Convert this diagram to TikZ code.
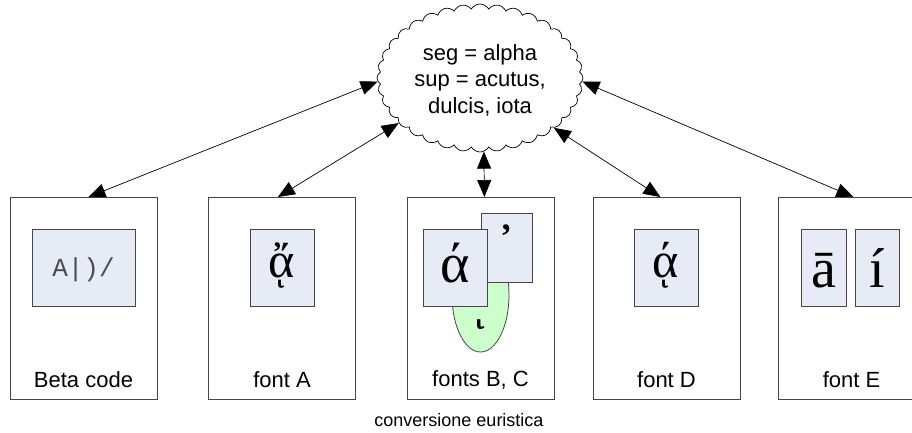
\documentclass[tikz,border=0pt]{standalone}
\usepackage{fontspec}
\setmainfont{Liberation Sans}
\newfontfamily\grk{Liberation Serif}
\newfontfamily\monof{Liberation Mono}
\usetikzlibrary{shapes.symbols,shapes.geometric,arrows.meta}
\definecolor{innerblue}{RGB}{230,235,246}
\definecolor{lightgreen}{RGB}{204,255,204}
\definecolor{boxline}{RGB}{70,70,70}
\begin{document}
\begin{tikzpicture}[x=1pt,y=-1pt,
  outerbox/.style={draw=boxline, line width=0.8pt, minimum width=147pt, minimum height=202pt, anchor=north west, inner sep=0pt},
  glyphbox/.style={draw=boxline, fill=innerblue, line width=0.8pt, inner sep=0pt, minimum height=77pt},
  lbl/.style={font=\fontsize{22}{26}\selectfont, inner sep=0pt},
  glyph/.style={inner sep=0pt, anchor=base},
  link/.style={{Triangle[length=17pt,width=14pt]}-{Triangle[length=17pt,width=14pt]}, line width=0.7pt},
]
\useasboundingbox (0,0) rectangle (912,432);

% cloud
\node[cloud, draw, line width=0.7pt, cloud puffs=36, cloud puff arc=120, aspect=1.4,
      minimum width=206pt, minimum height=148pt, inner sep=0pt] (cl) at (480,78) {};
\node[align=center, inner sep=0pt, font=\fontsize{22}{26.5}\selectfont] (cltext) at (480,80)
  {seg = alpha\\sup = acutus,\\dulcis, iota};

% outer boxes
\node[outerbox] (b1) at (10,197) {};
\node[outerbox] (b2) at (208,197) {};
\node[outerbox] (b3) at (407,197) {};
\node[outerbox] (b4) at (593,197) {};
\node[outerbox] (b5) at (778,197) {};

% labels
\node[lbl] (l1) at (83.5,380) {Beta code};
\node[lbl] (l2) at (282,380) {font A};
\node[lbl] (l3) at (480.5,380) {fonts B, C};
\node[lbl] (l4) at (666.5,380) {font D};
\node[lbl] (l5) at (851.5,380) {font E};
\node[inner sep=0pt, font=\fontsize{18}{20}\selectfont] (cap) at (459,420) {conversione euristica};

% box 1
\node[glyphbox, minimum width=103pt] (i1) at (83.5,267.5) {};
\node[glyph, font=\monof\fontsize{26}{26}\selectfont, text=black!70] (t1) at (83.5,276) {A|)/};

% box 2
\node[glyphbox, minimum width=64pt] (i2) at (282,267.5) {};
\node[glyph, font=\grk\fontsize{50}{50}\selectfont] (t2) at (282,277) {ᾄ};

% box 3
\node[ellipse, draw=boxline, fill=lightgreen, line width=0.8pt, minimum width=57pt, minimum height=114pt, inner sep=0pt] (e3) at (480.5,295) {};
\node[glyph, font=\grk\fontsize{60}{60}\selectfont] (t3c) at (481,316) {ͺ};
\node[glyphbox, minimum width=51pt, minimum height=69pt] (i3b) at (506.5,247.5) {};
\node[glyph, font=\grk\fontsize{60}{60}\selectfont] (t3b) at (506,266) {᾿};
\node[glyphbox, minimum width=64pt] (i3a) at (455,267.5) {};
\node[glyph, font=\grk\fontsize{56}{56}\selectfont] (t3a) at (455,282) {ά};

% box 4
\node[glyphbox, minimum width=64pt] (i4) at (666,267.5) {};
\node[glyph, font=\grk\fontsize{50}{50}\selectfont] (t4) at (666,277) {ᾴ};

% box 5
\node[glyphbox, minimum width=45pt] (i5a) at (823.5,267.5) {};
\node[glyph, font=\grk\fontsize{56}{56}\selectfont] (t5a) at (823.5,287) {ā};
\node[glyphbox, minimum width=44pt] (i5b) at (877,267.5) {};
\node[glyph, font=\grk\fontsize{56}{56}\selectfont] (t5b) at (877,287) {í};

% connectors
\draw[link] (cl.182) -- ([xshift=4.5pt]b1.north);
\draw[link] (cl.209) -- ([xshift=-4pt]b2.north);
\draw[link] (cl.273) -- ([xshift=3.5pt]b3.north);
\draw[link] (cl.326) -- ([xshift=-6.5pt]b4.north);
\draw[link] (cl.358) -- ([xshift=1.5pt]b5.north);
\end{tikzpicture}
\end{document}
